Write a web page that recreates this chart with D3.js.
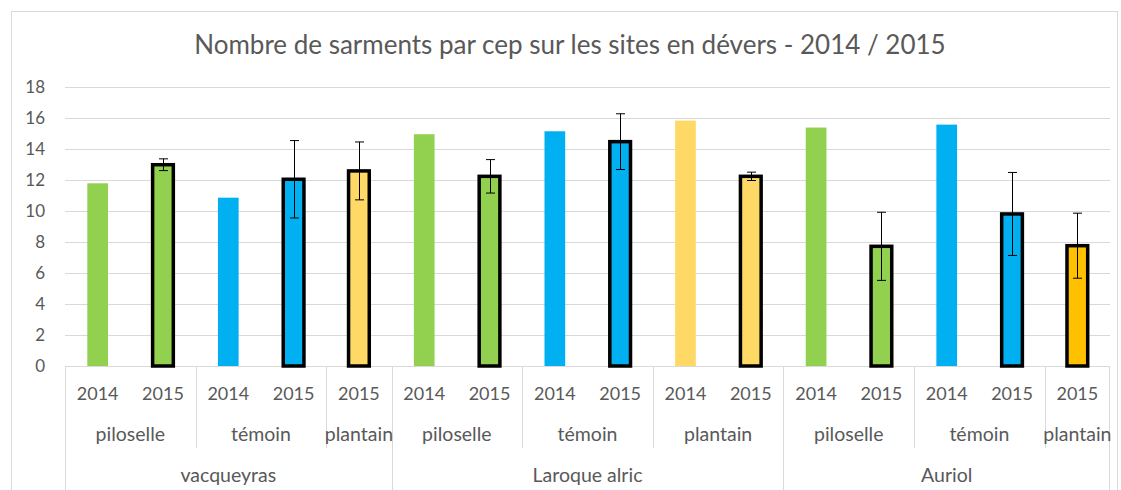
<!DOCTYPE html>
<html>
<head>
<meta charset="utf-8">
<script src="https://cdn.jsdelivr.net/npm/d3@7"></script>
<style>
  body { margin: 0; padding: 0; background: #fff; }
  text { font-family: Lato, "Open Sans", sans-serif; fill: #595959; }
</style>
</head>
<body>
<script>
// one entry per bar, left to right
const sites      = ["vacqueyras","vacqueyras","vacqueyras","vacqueyras","vacqueyras",
                    "Laroque alric","Laroque alric","Laroque alric","Laroque alric","Laroque alric","Laroque alric",
                    "Auriol","Auriol","Auriol","Auriol","Auriol"];
const treatments = ["piloselle","piloselle","témoin","témoin","plantain",
                    "piloselle","piloselle","témoin","témoin","plantain","plantain",
                    "piloselle","piloselle","témoin","témoin","plantain"];
const years      = ["2014","2015","2014","2015","2015",
                    "2014","2015","2014","2015","2014","2015",
                    "2014","2015","2014","2015","2015"];
const values     = [11.8, 13.0, 10.87, 12.06, 12.6,
                    14.97, 12.25, 15.16, 14.49, 15.85, 12.25,
                    15.4, 7.73, 15.59, 9.82, 7.77];
const errors     = [null, 0.38, null, 2.5, 1.87,
                    null, 1.08, null, 1.8, null, 0.27,
                    null, 2.2, null, 2.68, 2.1];
const yTicks = [0, 2, 4, 6, 8, 10, 12, 14, 16, 18];
const title = "Nombre de sarments par cep sur les sites en dévers - 2014 / 2015";

const W = 1121, H = 490;
const plot = { left: 65, right: 1110, top: 87.3, bottom: 366 };

const colors = { "piloselle": "#92D050", "témoin": "#00B0F0", "plantain": "#FFD966" };
const fillOf = i => (sites[i] === "Auriol" && treatments[i] === "plantain") ? "#FFC000" : colors[treatments[i]];

const data = values.map((v, i) => ({ i, v, e: errors[i], year: years[i] }));

const x = d3.scaleBand().domain(d3.range(values.length)).range([plot.left, plot.right]).padding(0);
const y = d3.scaleLinear().domain([0, 18]).range([plot.bottom, plot.top]);
const bw = x.bandwidth() * 0.317;

const svg = d3.select("body").append("svg").attr("width", W).attr("height", H);

// chart border
svg.append("rect").attr("x", 11.5).attr("y", 11.5).attr("width", 1106).attr("height", 500)
  .attr("fill", "none").attr("stroke", "#D9D9D9");

svg.append("text").attr("x", 570).attr("y", 54).attr("text-anchor", "middle")
  .style("font-size", "26px").text(title);

// gridlines + y labels
svg.append("g").selectAll("line").data(yTicks.filter(t => t > 0)).join("line")
  .attr("x1", plot.left).attr("x2", plot.right)
  .attr("y1", d => Math.round(y(d)) + 0.5).attr("y2", d => Math.round(y(d)) + 0.5)
  .attr("stroke", "#D9D9D9");
svg.append("g").selectAll("text").data(yTicks).join("text")
  .attr("x", 45).attr("y", d => y(d) + 6).attr("text-anchor", "end")
  .style("font-size", "17px").text(d => d);

// category axis
const ax = svg.append("g").attr("stroke", "#D9D9D9");
ax.append("line").attr("x1", plot.left).attr("x2", plot.right)
  .attr("y1", plot.bottom + 0.5).attr("y2", plot.bottom + 0.5);

// runs of equal keys -> label spans
function spans(keyFn) {
  const out = [];
  values.forEach((v, i) => {
    const k = keyFn(i);
    const last = out[out.length - 1];
    if (last && last.key === k) last.end = i; else out.push({ key: k, start: i, end: i });
  });
  return out;
}
const siteSpans = spans(i => sites[i]);
const trtSpans = spans(i => sites[i] + "|" + treatments[i]);

trtSpans.forEach(s => {
  const xs = Math.round(x(s.start)) + 0.5;
  ax.append("line").attr("x1", xs).attr("x2", xs).attr("y1", plot.bottom).attr("y2", 448);
});
siteSpans.forEach(s => {
  const xs = Math.round(x(s.start)) + 0.5;
  ax.append("line").attr("x1", xs).attr("x2", xs).attr("y1", plot.bottom).attr("y2", H);
});
ax.append("line").attr("x1", Math.round(plot.right) - 0.5).attr("x2", Math.round(plot.right) - 0.5)
  .attr("y1", plot.bottom).attr("y2", H);

svg.append("g").selectAll("text").data(data).join("text")
  .attr("x", d => x(d.i) + x.bandwidth() / 2).attr("y", 400)
  .attr("text-anchor", "middle").style("font-size", "18px").text(d => d.year);

svg.append("g").selectAll("text").data(trtSpans).join("text")
  .attr("x", d => (x(d.start) + x(d.end) + x.bandwidth()) / 2).attr("y", 441)
  .attr("text-anchor", "middle").style("font-size", "19.5px").text(d => d.key.split("|")[1]);

svg.append("g").selectAll("text").data(siteSpans).join("text")
  .attr("x", d => (x(d.start) + x(d.end) + x.bandwidth()) / 2).attr("y", 482)
  .attr("text-anchor", "middle").style("font-size", "19.5px").text(d => d.key);

// bars
svg.append("g").selectAll("rect").data(data).join("rect")
  .attr("x", d => x(d.i) + x.bandwidth() / 2 - bw / 2)
  .attr("y", d => y(d.v))
  .attr("width", bw)
  .attr("height", d => y(0) - y(d.v))
  .attr("fill", d => fillOf(d.i))
  .attr("stroke", d => d.e != null ? "#000" : "none")
  .attr("stroke-width", 3.5);

// error bars
const eb = svg.append("g").attr("stroke", "#000").attr("stroke-width", 1)
  .selectAll("g").data(data.filter(d => d.e != null)).join("g");
const cx = d => Math.round(x(d.i) + x.bandwidth() / 2) + 0.5;
eb.append("line").attr("x1", cx).attr("x2", cx).attr("y1", d => y(d.v + d.e)).attr("y2", d => y(d.v - d.e));
eb.append("line").attr("x1", d => cx(d) - 4.5).attr("x2", d => cx(d) + 4.5)
  .attr("y1", d => y(d.v + d.e)).attr("y2", d => y(d.v + d.e));
eb.append("line").attr("x1", d => cx(d) - 4.5).attr("x2", d => cx(d) + 4.5)
  .attr("y1", d => y(d.v - d.e)).attr("y2", d => y(d.v - d.e));
</script>
</body>
</html>
